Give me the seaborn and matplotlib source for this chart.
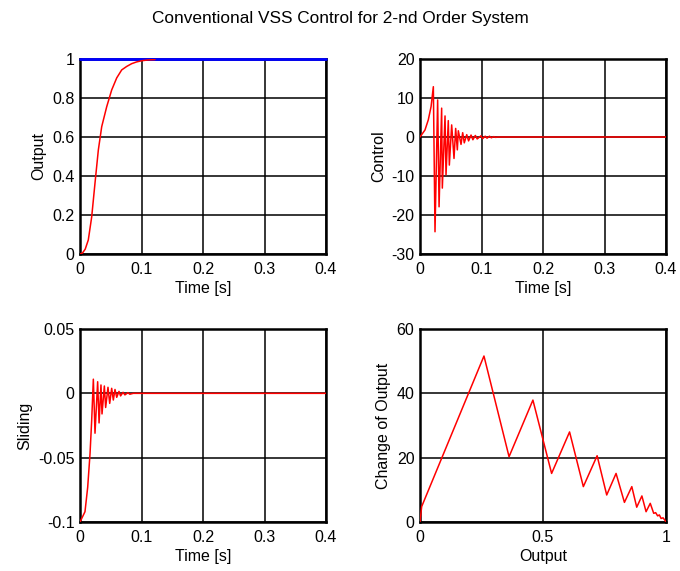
import matplotlib
matplotlib.use("Agg")
import matplotlib.pyplot as plt
import seaborn as sns
import pandas as pd
from matplotlib.ticker import FuncFormatter, MultipleLocator

# ---- data ----
out_t = [0, 0.004, 0.0085, 0.0135, 0.019, 0.0244, 0.0298, 0.0353, 0.0434, 0.0515,
         0.0597, 0.0678, 0.076, 0.084, 0.092, 0.1003, 0.11, 0.122]
out_y = [0, 0.005, 0.025, 0.072, 0.19, 0.364, 0.533, 0.653, 0.755, 0.841,
         0.903, 0.944, 0.962, 0.976, 0.985, 0.991, 0.995, 0.997]
ref_t = [0, 0.4]
ref_y = [1, 1]

ctl_t = [0, 0.0081, 0.0135, 0.018, 0.0217, 0.0244, 0.0287, 0.031, 0.0352, 0.0363,
         0.0407, 0.0423, 0.046, 0.0477, 0.0515, 0.0553, 0.058, 0.0607, 0.0623, 0.0667,
         0.0694, 0.072, 0.076, 0.079, 0.083, 0.086, 0.09, 0.093, 0.099, 0.102,
         0.106, 0.109, 0.113, 0.116, 0.12, 0.123, 0.127, 0.4]
ctl_u = [0, 1.8, 4.4, 7.8, 12.9, -24.3, 9.5, -17.9, 7.4, -13.1,
         5.4, -9.7, 4.2, -7.2, 3.1, -5.5, 2.2, -3.3, 1.6, -1.9,
         1.1, -1.5, 0.6, -1.0, 0.5, -0.7, 0.4, -0.5, 0.3, -0.4,
         0.2, -0.3, 0.2, -0.2, 0.1, -0.1, 0, 0]

sl_t = [0, 0.0081, 0.0125, 0.0163, 0.019, 0.0217, 0.0244, 0.0287, 0.031, 0.0341,
        0.0358, 0.0396, 0.0417, 0.0455, 0.0483, 0.0515, 0.0542, 0.0569, 0.0597,
        0.0634, 0.066, 0.070, 0.073, 0.078, 0.081, 0.0866, 0.4]
sl_s = [-0.1, -0.092, -0.073, -0.047, -0.021, 0.011, -0.031, 0.009, -0.023, 0.0065,
        -0.016, 0.0057, -0.011, 0.0047, -0.0078, 0.0039, -0.0052, 0.003, -0.0031,
        0.0015, -0.002, 0.0008, -0.0012, 0.0005, -0.0007, 0, 0]

ph_x = [0, 0.0068, 0.260, 0.362, 0.459, 0.535, 0.608, 0.664, 0.720, 0.759,
        0.797, 0.831, 0.861, 0.881, 0.902, 0.919, 0.936, 0.950, 0.958, 0.966,
        0.973, 0.980, 0.988, 0.996, 1.0]
ph_y = [0, 4.8, 51.6, 20.3, 37.9, 15.1, 28.0, 11.0, 20.6, 8.4,
        15.1, 6.1, 11.0, 4.6, 8.1, 3.2, 5.8, 2.7, 2.9, 1.9,
        2.2, 1.1, 1.3, 0.5, 0]

title = "Conventional VSS Control for 2-nd Order System"

sns.set_theme(style="white")
plt.rcParams["font.family"] = ["Liberation Sans", "DejaVu Sans"]
FS = 11.5

fig = plt.figure(figsize=(6.8, 5.71), dpi=100)
W, H = 680, 571
def add_ax(x0, x1, y0, y1):
    return fig.add_axes([x0 / W, 1 - y1 / H, (x1 - x0) / W, (y1 - y0) / H])

ax1 = add_ax(80, 326, 59, 254)
ax2 = add_ax(420, 666, 59, 254)
ax3 = add_ax(80, 326, 329, 522)
ax4 = add_ax(420, 666, 329, 522)

fmt = FuncFormatter(lambda v, p: "%g" % round(v, 6))

def style(ax, xlim, ylim, xstep, ystep, xlabel, ylabel):
    ax.set_xlim(*xlim)
    ax.set_ylim(*ylim)
    ax.xaxis.set_major_locator(MultipleLocator(xstep))
    ax.yaxis.set_major_locator(MultipleLocator(ystep))
    ax.xaxis.set_major_formatter(fmt)
    ax.yaxis.set_major_formatter(fmt)
    ax.grid(True, color="black", linewidth=1.1)
    ax.set_axisbelow(True)
    for s in ax.spines.values():
        s.set_color("black")
        s.set_linewidth(1.8)
        s.set_zorder(5)
    ax.tick_params(axis="both", length=0, labelsize=FS, colors="black")
    ax.tick_params(axis="x", pad=6)
    ax.tick_params(axis="y", pad=4)
    ax.set_xlabel(xlabel, fontsize=FS, labelpad=3, color="black")
    ax.set_ylabel(ylabel, fontsize=FS, labelpad=4, color="black")

red = "#ff0000"
sns.lineplot(x=ref_t, y=ref_y, ax=ax1, color="#0000ff", linewidth=2.0, sort=False,
             estimator=None, clip_on=False, zorder=6)
sns.lineplot(x=out_t, y=out_y, ax=ax1, color=red, linewidth=1.1, sort=False, estimator=None, zorder=7)
style(ax1, (0, 0.4), (0, 1), 0.1, 0.2, "Time [s]", "Output")

sns.lineplot(x=ctl_t, y=ctl_u, ax=ax2, color=red, linewidth=1.1, sort=False, estimator=None, zorder=6)
style(ax2, (0, 0.4), (-30, 20), 0.1, 10, "Time [s]", "Control")

sns.lineplot(x=sl_t, y=sl_s, ax=ax3, color=red, linewidth=1.1, sort=False, estimator=None, zorder=6)
style(ax3, (0, 0.4), (-0.1, 0.05), 0.1, 0.05, "Time [s]", "Sliding")

sns.lineplot(x=ph_x, y=ph_y, ax=ax4, color=red, linewidth=1.1, sort=False, estimator=None, zorder=6)
style(ax4, (0, 1), (0, 60), 0.5, 20, "Output", "Change of Output")

fig.text(340 / W, 1 - 18 / H, title, ha="center", va="center", fontsize=12.4, color="black")

fig.savefig("out.png", dpi=100, facecolor="white")
